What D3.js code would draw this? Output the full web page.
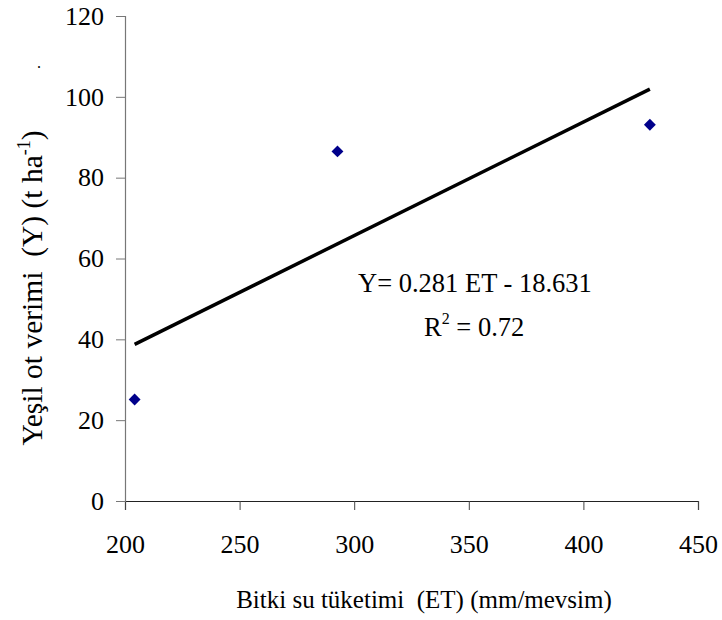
<!DOCTYPE html>
<html>
<head>
<meta charset="utf-8">
<script src="https://cdn.jsdelivr.net/npm/d3@7"></script>
<style>
  body { margin: 0; background: #fff; }
</style>
</head>
<body>
<script>
// data
var etValues = [204.2, 292.7, 429.0];
var yieldValues = [25.1, 86.5, 93.1];
var xTicks = [200, 250, 300, 350, 400, 450];
var yTicks = [0, 20, 40, 60, 80, 100, 120];
var trendSlope = 0.281;
var trendIntercept = -18.631;
var trendRange = [204.2, 429.0];

const w = 722;
const h = 620;
const margin = {top: 16, right: 24, bottom: 119, left: 125};
const serif = 'Liberation Serif';

var svg = d3.select('body')
  .append('svg')
  .attr('width', w)
  .attr('height', h)

var xScale = d3.scaleLinear()
  .domain([200, 450])
  .range([margin.left, w - margin.right])

var yScale = d3.scaleLinear()
  .domain([0, 120])
  .range([h - margin.bottom, margin.top])

var xAxis = d3.axisBottom(xScale).tickValues(xTicks).tickSize(9).tickPadding(25)
var yAxis = d3.axisLeft(yScale).tickValues(yTicks).tickSize(9).tickPadding(12)

var gx = svg.append('g')
  .attr('transform', 'translate(0,' + yScale(0) + ')')
  .call(xAxis)
gx.select('.domain').attr('stroke', '#222').attr('stroke-width', 1.2)
gx.selectAll('.tick line').attr('stroke', '#444')

var gy = svg.append('g')
  .attr('transform', 'translate(' + xScale(200) + ',0)')
  .call(yAxis)
gy.select('.domain').attr('stroke', '#777').attr('stroke-width', 1.2)
gy.selectAll('.tick line').attr('stroke', '#777')

svg.selectAll('.tick text')
  .attr('font-family', serif)
  .attr('font-size', 26)
  .attr('fill', '#000')

// trendline
svg.append('line')
  .attr('x1', xScale(trendRange[0]))
  .attr('y1', yScale(trendSlope * trendRange[0] + trendIntercept))
  .attr('x2', xScale(trendRange[1]))
  .attr('y2', yScale(trendSlope * trendRange[1] + trendIntercept))
  .attr('stroke', '#000')
  .attr('stroke-width', 3.5)

// points
var points = etValues.map((d, i) => [d, yieldValues[i]])
svg.selectAll('path.pt')
  .data(points)
  .enter()
  .append('path')
  .attr('class', 'pt')
  .attr('d', d3.symbol().type(d3.symbolDiamond2).size(90))
  .attr('transform', d => 'translate(' + xScale(d[0]) + ',' + yScale(d[1]) + ')')
  .attr('fill', '#00008b')

// equation
svg.append('text')
  .attr('x', 358)
  .attr('y', 292)
  .attr('font-family', serif)
  .attr('font-size', 26.5)
  .text('Y= 0.281 ET - 18.631')

var r2 = svg.append('text')
  .attr('x', 424)
  .attr('y', 336)
  .attr('font-family', serif)
  .attr('font-size', 26.5)
r2.append('tspan').text('R')
r2.append('tspan').attr('dy', -12).attr('font-size', 16).text('2')
r2.append('tspan').attr('dy', 12).text(' = 0.72')

// axis titles
svg.append('text')
  .attr('text-anchor', 'middle')
  .attr('x', 424)
  .attr('y', 608)
  .attr('font-family', serif)
  .attr('font-size', 25)
  .style('white-space', 'pre')
  .text('Bitki su tüketimi  (ET) (mm/mevsim)')

var yt = svg.append('text')
  .attr('text-anchor', 'middle')
  .attr('transform', 'translate(42,' + 288 + ')rotate(-90)')
  .attr('font-family', serif)
  .attr('font-size', 29.5)
  .style('white-space', 'pre')
yt.append('tspan').text('Yeşil ot verimi  (Y) (t ha')
yt.append('tspan').attr('dy', -12).attr('font-size', 18).text('-1')
yt.append('tspan').attr('dy', 12).text(')')

svg.append('text')
  .attr('x', 37)
  .attr('y', 68)
  .attr('font-family', serif)
  .attr('font-size', 16)
  .text('.')
</script>
</body>
</html>
